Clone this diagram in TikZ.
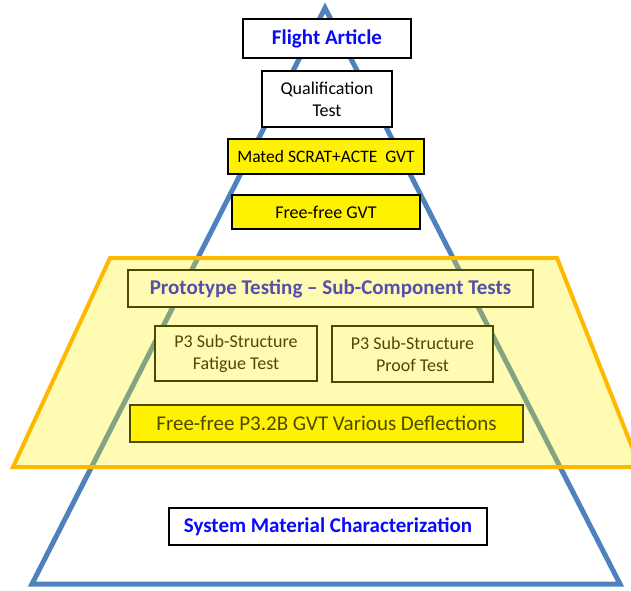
\documentclass[tikz,border=0pt]{standalone}
\usepackage{fontspec}
\setmainfont{Carlito}
\definecolor{triblue}{RGB}{79,129,189}
\definecolor{orng}{RGB}{255,184,0}
\definecolor{ttlblue}{RGB}{10,10,250}
\begin{document}
\begin{tikzpicture}[x=1pt,y=-1pt,
  box/.style={draw=black, line width=2pt, fill=white, inner sep=0pt, align=center,
    font=\fontsize{18}{22}\selectfont},
  ybox/.style={box, fill=yellow},
  ttl/.style={font=\fontsize{21}{22}\selectfont\bfseries, text=ttlblue}]
\useasboundingbox (0,0) rectangle (631,590);
\clip (0,0) rectangle (631,590);
% pyramid
\draw[triblue, line width=5pt, line join=miter] (325,8) -- (620,584) -- (32,584) -- cycle;
% boxes
\node[box, ttl, minimum width=168pt, minimum height=39pt] (flight) at (327,38.5) {Flight Article};
\node[box, minimum width=130pt, minimum height=56pt] (qual) at (327,99) {Qualification\\Test};
\node[ybox, font=\fontsize{17.5}{22}\selectfont, minimum width=196pt, minimum height=35pt] (mated) at (326,156.5) {Mated SCRAT+ACTE\ \ GVT};
\node[ybox, minimum width=188pt, minimum height=34pt] (ffgvt) at (326,212) {Free-free GVT};
\node[box, ttl, minimum width=405pt, minimum height=37pt] (proto) at (330.5,288.5) {Prototype Testing -- Sub-Component Tests};
\node[box, minimum width=162pt, minimum height=55pt] (fatigue) at (236,353.5) {P3 Sub-Structure\\Fatigue Test};
\node[box, minimum width=161pt, minimum height=56pt] (proof) at (412.5,354) {P3 Sub-Structure\\Proof Test};
\node[ybox, font=\fontsize{21}{22}\selectfont, minimum width=393pt, minimum height=37pt] (defl) at (326.5,423.5) {Free-free P3.2B GVT Various Deflections};
\node[box, ttl, minimum width=318pt, minimum height=37pt] (smc) at (328,526.5) {System Material Characterization};
% translucent prototype band
\fill[yellow, fill opacity=0.3] (110,258) -- (557,258) -- (640,467) -- (13,467) -- cycle;
\draw[orng, line width=4pt, line join=miter] (110,258) -- (557,258) -- (640,467) -- (13,467) -- cycle;
\end{tikzpicture}
\end{document}
